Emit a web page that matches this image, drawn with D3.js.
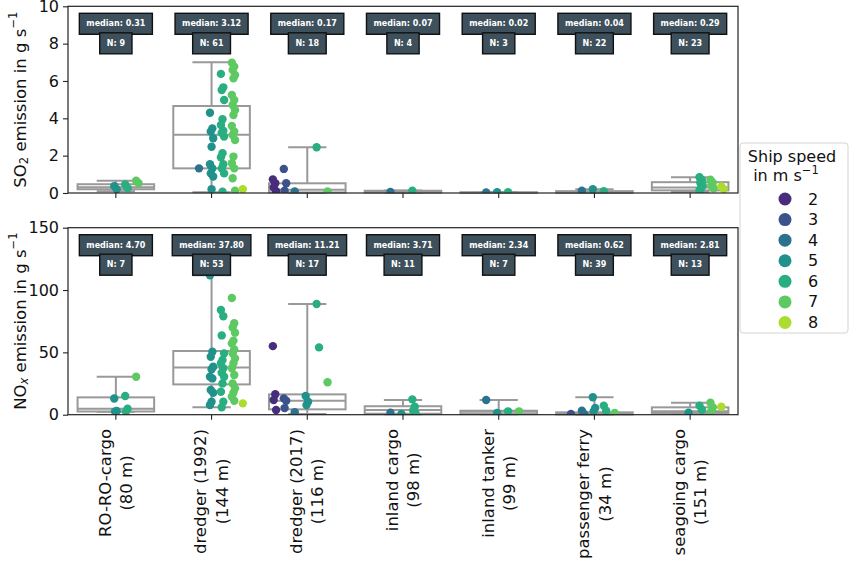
<!DOCTYPE html>
<html>
<head>
<meta charset="utf-8">
<script src="https://cdn.jsdelivr.net/npm/d3@7"></script>
<style>
body{margin:0;background:#fff;}
text{font-family:"DejaVu Sans",sans-serif;fill:#111;}
</style>
</head>
<body>
<svg id="chart" width="850" height="563"></svg>
<script>
// categories
var shipTypes = ["RO-RO-cargo","dredger (1992)","dredger (2017)","inland cargo","inland tanker","passenger ferry","seagoing cargo"];
var shipLengths = ["80 m","144 m","116 m","98 m","99 m","34 m","151 m"];
var speeds = [2,3,4,5,6,7,8];

// SO2 panel
var so2Median = [0.31,3.12,0.17,0.07,0.02,0.04,0.29];
var so2N      = [9,61,18,4,3,22,23];
var so2Q1     = [0.20,1.32,0.03,0.02,0.01,0.01,0.14];
var so2Q3     = [0.47,4.66,0.52,0.12,0.04,0.10,0.58];
var so2Lo     = [0.10,0.04,0.00,0.00,0.00,0.00,0.05];
var so2Hi     = [0.66,7.00,2.45,0.14,0.05,0.20,0.84];
// per ship type: [speed, values]
var so2Points = [
  [[5,[0.37,0.20]],[6,[0.46,0.26]],[7,[0.66,0.52]]],
  [[4,[1.32]],
   [5,[4.30,3.46,3.29,2.93,2.48,1.54,1.32,1.05,0.88,0.20]],
   [6,[6.38,5.66,5.52,4.98,3.95,3.64,3.34,3.23,3.02,2.13,1.91,1.54,1.32,1.05,0.07]],
   [7,[6.98,6.77,6.59,6.32,6.14,5.25,4.98,4.71,4.45,4.18,3.59,3.29,3.11,2.84,1.95,1.59,1.32,0.79,0.12]],
   [8,[0.20]]],
  [[2,[0.73,0.52,0.30,0.10]],[3,[1.29,0.52,0.12]],[4,[0.08]],[6,[2.45]],[7,[0.08]]],
  [[4,[0.05]],[6,[0.12]]],
  [[4,[0.03]],[5,[0.04]],[6,[0.04]]],
  [[4,[0.12]],[5,[0.20]],[6,[0.10]]],
  [[6,[0.84,0.70,0.55,0.40,0.25,0.15]],[7,[0.71,0.55,0.40,0.25]],[8,[0.35,0.21]]]
];

// NOx panel
var noxMedian = [4.70,37.80,11.21,3.71,2.34,0.62,2.81];
var noxN      = [7,53,17,11,7,39,13];
var noxQ1     = [2.6,24.3,4.3,0.8,0.5,0.2,1.4];
var noxQ3     = [13.9,51.1,16.3,6.8,3.2,1.9,5.9];
var noxLo     = [2.4,5.9,0.5,0.3,0.3,0.1,0.5];
var noxHi     = [30.5,111.8,88.8,11.8,11.8,14.0,9.6];
var noxPoints = [
  [[5,[13.0,3.0,2.5]],[6,[15.0,4.8,2.6]],[7,[30.5]]],
  [[5,[111.8,50.5,46.5,38.5,36.4,30.5,29.1,19.8,17.6,10.4,7.8]],
   [6,[84.0,79.0,63.6,49.2,43.9,41.2,37.2,33.7,30.5,25.1,18.4,10.4,5.9]],
   [7,[93.6,73.3,70.0,65.8,59.4,57.2,52.4,49.2,45.2,41.2,37.2,31.8,25.1,21.1,17.6,14.4,11.2]],
   [8,[9.1]]],
  [[2,[55.0,16.4,11.8,3.8]],[3,[13.1,11.2,5.3]],[4,[2.0]],[5,[15.0,10.4,7.7]],[6,[88.8,54.0]],[7,[26.0]]],
  [[4,[1.6]],[5,[0.6]],[6,[12.3,6.4,3.4,1.2]]],
  [[4,[11.8]],[5,[1.4]],[6,[2.7]],[7,[2.7]]],
  [[3,[0.6]],[4,[3.2,0.6]],[5,[14.0,5.4,2.7]],[6,[7.3,3.2]],[7,[1.4]]],
  [[5,[1.6]],[6,[7.3,4.0]],[7,[9.6,5.9,2.7]],[8,[6.4]]]
];

var so2Ticks = [0,2,4,6,8,10];
var noxTicks = [0,50,100,150];

var svg = d3.select("#chart");
var left = 68, right = 738;
var color = d3.scaleOrdinal().domain(speeds)
  .range(speeds.map(function(s,i){ return d3.interpolateViridis((i+1)/8); }));

var x = d3.scaleBand().domain(d3.range(shipTypes.length)).range([left,right]);
var bw = x.bandwidth();
var hue = d3.scaleBand().domain(speeds).range([-0.4*bw,0.4*bw]);
function cx(i){ return x(i)+bw/2; }

var panels = [
  {top:6.3,bottom:193,dom:[0,10],ticks:so2Ticks,med:so2Median,n:so2N,q1:so2Q1,q3:so2Q3,lo:so2Lo,hi:so2Hi,pts:so2Points,lab:"so2",id:"p1"},
  {top:227.7,bottom:414.7,dom:[0,150],ticks:noxTicks,med:noxMedian,n:noxN,q1:noxQ1,q3:noxQ3,lo:noxLo,hi:noxHi,pts:noxPoints,lab:"nox",id:"p2"}
];

panels.forEach(function(p){
  var y = d3.scaleLinear().domain(p.dom).range([p.bottom,p.top]);
  var g = svg.append("g");

  svg.append("clipPath").attr("id","clip"+p.id).append("rect")
    .attr("x",left).attr("y",p.top).attr("width",right-left).attr("height",p.bottom-p.top);

  // boxes
  var boxW = 0.8*bw, capW = boxW/2;
  d3.range(shipTypes.length).forEach(function(i){
    var c = cx(i);
    var bg = g.append("g").attr("stroke","#999").attr("stroke-width",2).attr("fill","none");
    bg.append("line").attr("x1",c).attr("x2",c).attr("y1",y(p.q3[i])).attr("y2",y(p.hi[i]));
    bg.append("line").attr("x1",c).attr("x2",c).attr("y1",y(p.q1[i])).attr("y2",y(p.lo[i]));
    bg.append("line").attr("x1",c-capW/2).attr("x2",c+capW/2).attr("y1",y(p.hi[i])).attr("y2",y(p.hi[i]));
    bg.append("line").attr("x1",c-capW/2).attr("x2",c+capW/2).attr("y1",y(p.lo[i])).attr("y2",y(p.lo[i]));
    bg.append("rect").attr("x",c-boxW/2).attr("width",boxW)
      .attr("y",y(p.q3[i])).attr("height",Math.max(0,y(p.q1[i])-y(p.q3[i])))
      .attr("fill","#fff");
    bg.append("line").attr("x1",c-boxW/2).attr("x2",c+boxW/2).attr("y1",y(p.med[i])).attr("y2",y(p.med[i]));
  });

  // strip points (dodged by speed, small fixed jitter)
  var pg = g.append("g").attr("clip-path","url(#clip"+p.id+")");
  p.pts.forEach(function(groups,i){
    groups.forEach(function(gr){
      var s = gr[0];
      var px = cx(i)+hue(s)+hue.bandwidth()/2;
      pg.selectAll(null).data(gr[1]).enter().append("circle")
        .attr("cx",function(d,k){ return px+((k*3)%5-2)*0.8; })
        .attr("cy",function(d){ return y(d); })
        .attr("r",4.2)
        .attr("fill",color(s));
    });
  });

  // frame
  g.append("rect").attr("x",left).attr("y",p.top).attr("width",right-left).attr("height",p.bottom-p.top)
    .attr("fill","none").attr("stroke","#222").attr("stroke-width",1.2);

  // y axis
  var ya = g.append("g").attr("transform","translate("+left+",0)")
    .call(d3.axisLeft(y).tickValues(p.ticks).tickSize(5).tickPadding(4).tickFormat(d3.format("d")));
  ya.select(".domain").remove();
  ya.selectAll("text").attr("font-size",16).attr("font-family","DejaVu Sans").attr("fill","#111");
  ya.selectAll("line").attr("stroke","#222").attr("stroke-width",1.1);

  // x ticks
  var xa = g.append("g").attr("transform","translate(0,"+p.bottom+")")
    .call(d3.axisBottom(x).tickSize(5).tickFormat(""));
  xa.select(".domain").remove();
  xa.selectAll("line").attr("stroke","#222").attr("stroke-width",1.1);

  // median / N badges
  d3.range(shipTypes.length).forEach(function(i){
    var c = cx(i);
    var labels = [
      {t:"median: "+p.med[i].toFixed(2), yc:p.top+17.5},
      {t:"N: "+p.n[i], yc:p.top+37}
    ];
    labels.forEach(function(l){
      var bgp = g.append("g");
      var r = bgp.append("rect");
      var t = bgp.append("text").attr("x",c).attr("y",l.yc).attr("text-anchor","middle")
        .attr("dominant-baseline","central").attr("font-size",8).attr("font-weight","bold")
        .style("fill","#fff").text(l.t);
      var w = t.node().getComputedTextLength()+14;
      r.attr("x",c-w/2).attr("y",l.yc-10.5).attr("width",w).attr("height",21)
        .attr("fill","#3d505b").attr("stroke","#111").attr("stroke-width",1.4);
    });
  });

  // y label
  var yl = svg.append("text").attr("transform","translate(20,"+((p.top+p.bottom)/2)+") rotate(-90)")
    .attr("text-anchor","middle").attr("dominant-baseline","central").attr("font-size",16.5);
  if (p.lab==="so2"){
    yl.append("tspan").text("SO");
    yl.append("tspan").attr("font-size",11.5).attr("dy",4).text("2");
    yl.append("tspan").attr("dy",-4).text(" emission in g s");
  } else {
    yl.append("tspan").text("NO");
    yl.append("tspan").attr("font-size",11.5).attr("font-style","italic").attr("dy",4).text("x");
    yl.append("tspan").attr("dy",-4).text(" emission in g s");
  }
  yl.append("tspan").attr("font-size",11.5).attr("dy",-7).text("\u22121");
});

// x tick labels (rotated, two lines)
d3.range(shipTypes.length).forEach(function(i){
  var lg = svg.append("g").attr("transform","translate("+cx(i)+",429) rotate(-90)");
  var t1 = lg.append("text").attr("font-size",16.5).attr("text-anchor","middle")
    .attr("dominant-baseline","central").attr("y",-10.6).text(shipTypes[i]);
  var t2 = lg.append("text").attr("font-size",16.5).attr("text-anchor","middle")
    .attr("dominant-baseline","central").attr("y",10.6).text("("+shipLengths[i]+")");
  var L = Math.max(t1.node().getComputedTextLength(),t2.node().getComputedTextLength());
  t1.attr("x",-L/2); t2.attr("x",-L/2);
});

// legend
var lgd = svg.append("g");
lgd.append("rect").attr("x",740).attr("y",143).attr("width",108).attr("height",190).attr("rx",3)
  .attr("fill","#fff").attr("stroke","#d4d4d4").attr("stroke-width",1);
lgd.append("text").attr("x",792).attr("y",162).attr("text-anchor","middle").attr("font-size",16).text("Ship speed");
var lt = lgd.append("text").attr("x",786).attr("y",181).attr("text-anchor","middle").attr("font-size",16);
lt.append("tspan").text("in m s");
lt.append("tspan").attr("font-size",11.5).attr("dy",-7).text("\u22121");
var ly = d3.scalePoint().domain(speeds).range([199,322.5]);
lgd.selectAll("circle").data(speeds).enter().append("circle")
  .attr("cx",785).attr("cy",function(d){ return ly(d); }).attr("r",6.5)
  .attr("fill",function(d){ return color(d); });
lgd.selectAll("text.v").data(speeds).enter().append("text").attr("class","v")
  .attr("x",813).attr("y",function(d){ return ly(d); }).attr("text-anchor","middle")
  .attr("dominant-baseline","central").attr("font-size",16).text(function(d){ return d; });
</script>
</body>
</html>
